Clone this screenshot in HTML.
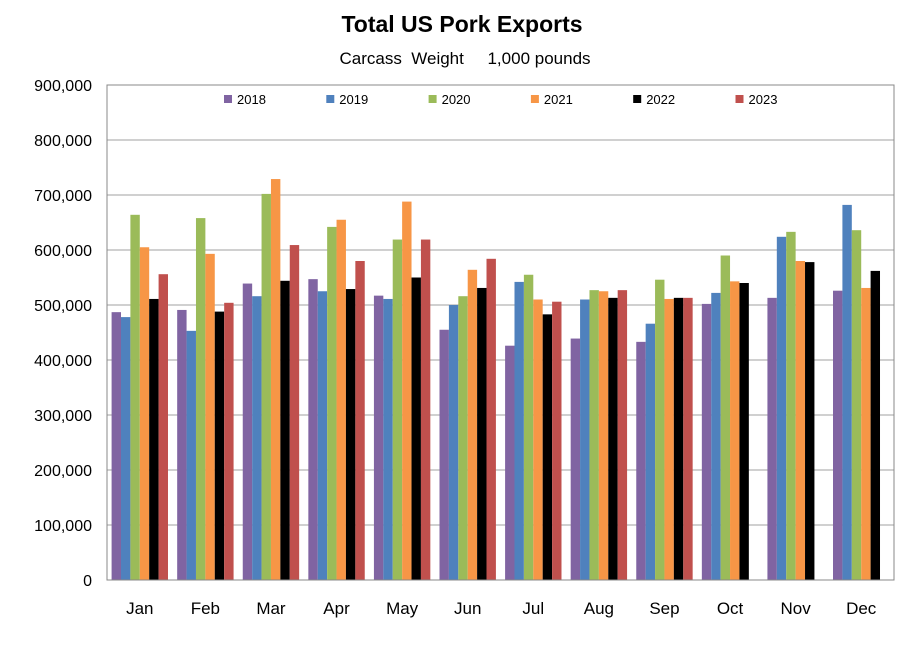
<!DOCTYPE html>
<html><head><meta charset="utf-8"><style>
body{margin:0;background:#fff;font-family:"Liberation Sans",Arial,sans-serif;}
</style></head><body>
<svg id="c" width="910" height="661" xmlns="http://www.w3.org/2000/svg" style="display:block">
<text x="462" y="32" text-anchor="middle" font-size="23" font-weight="bold">Total US Pork Exports</text>
<text x="465" y="64" text-anchor="middle" font-size="17" xml:space="preserve">Carcass  Weight     1,000 pounds</text>
<g id="grid"></g><g id="bars"></g><g id="axes"></g><g id="legend"></g>
</svg>
<script>
const months=["Jan","Feb","Mar","Apr","May","Jun","Jul","Aug","Sep","Oct","Nov","Dec"];
const years=["2018","2019","2020","2021","2022","2023"];
const colors=["#8064A2","#4F81BD","#9BBB59","#F79646","#000000","#C0504D"];
const s2018=[487,491,539,547,517,455,426,439,433,502,513,526];
const s2019=[478,453,516,525,511,500,542,510,466,522,624,682];
const s2020=[664,658,702,642,619,516,555,527,546,590,633,636];
const s2021=[605,593,729,655,688,564,510,525,511,543,580,531];
const s2022=[511,488,544,529,550,531,483,513,513,540,578,562];
const s2023=[556,504,609,580,619,584,506,527,513,null,null,null];
const yTicks=[0,100000,200000,300000,400000,500000,600000,700000,800000,900000];
const series=[s2018,s2019,s2020,s2021,s2022,s2023];
const NS="http://www.w3.org/2000/svg";
const L=107,R=894,T=85,B=580,maxV=900000;
const y=v=>B-(v/maxV)*(B-T);
const gw=(R-L)/months.length, bw=9.4;
const x=(m,s)=>L+m*gw+(gw-bw*6)/2+s*bw;
function mk(t,a,p){const e=document.createElementNS(NS,t);for(const k in a)e.setAttribute(k,a[k]);p.appendChild(e);return e;}
const grid=document.getElementById('grid'),bars=document.getElementById('bars'),axes=document.getElementById('axes'),leg=document.getElementById('legend');
yTicks.forEach(v=>{
  if(v>0){const g=mk('line',{x1:L,x2:R,y1:y(v),y2:y(v),stroke:'#a0a0a0','stroke-width':1},grid);
  
  }
  const t=mk('text',{x:92,y:y(v)+6,'text-anchor':'end','font-size':16},axes);
  t.textContent=v.toLocaleString('en-US');
  
  
});
series.forEach((arr,s)=>arr.forEach((v,m)=>{
  if(v==null)return;
  const r=mk('rect',{x:x(m,s),y:y(v*1000),width:bw,height:B-y(v*1000),fill:colors[s]},bars);
  
  
}));
const f=mk('rect',{x:L,y:T,width:R-L,height:B-T,fill:'none',stroke:'#888','stroke-width':1},axes);


months.forEach((mo,m)=>{
  const t=mk('text',{x:L+m*gw+gw/2,y:614,'text-anchor':'middle','font-size':17},axes);
  t.textContent=mo;
  
  
});
years.forEach((yr,i)=>{
  const gx=224+i*102.3;
  const g=mk('g',{},leg);
  
  
  mk('rect',{x:gx,y:95,width:8,height:8,fill:colors[i]},g);
  const t=mk('text',{x:gx+13,y:104,'font-size':13},g);
  t.textContent=yr;
});
</script>
</body></html>
